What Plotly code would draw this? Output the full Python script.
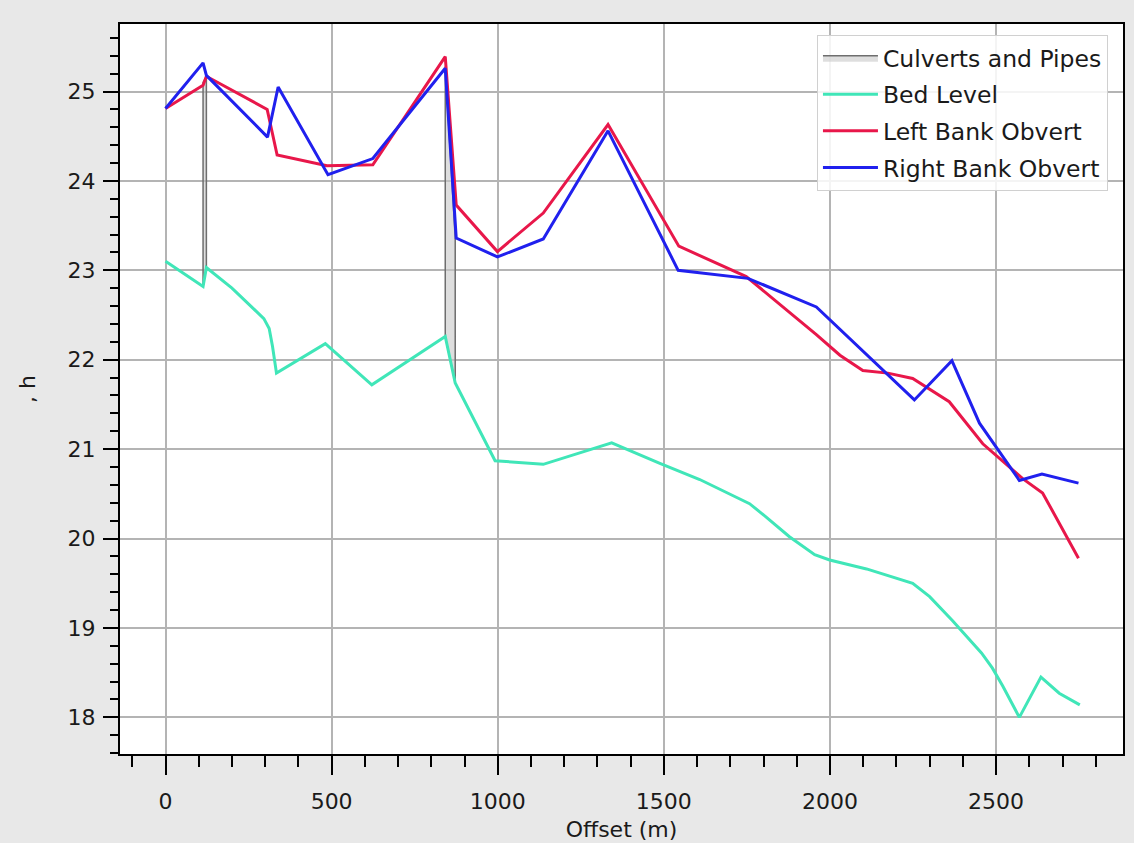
import plotly.graph_objects as go

# ---- data ----
bed_x = [0, 113, 123, 200, 296, 312, 322, 334, 481, 621, 842, 872, 992, 1137, 1343,
         1488, 1608, 1758, 1808, 1878, 1954, 1999, 2110, 2249, 2300, 2369, 2456, 2489,
         2520, 2570, 2635, 2690, 2752]
bed_y = [23.10, 22.82, 23.03, 22.80, 22.46, 22.35, 22.15, 21.85, 22.18, 21.72, 22.26, 21.74,
         20.87, 20.83, 21.07, 20.84, 20.66, 20.39, 20.24, 20.02, 19.82, 19.76, 19.66, 19.50,
         19.35, 19.08, 18.72, 18.55, 18.35, 18.00, 18.45, 18.27, 18.14]

left_x = [0, 113, 123, 306, 336, 486, 624, 842, 875, 999, 1137, 1332, 1545, 1748, 1959,
          2030, 2099, 2174, 2249, 2359, 2460, 2580, 2640, 2748]
left_y = [24.81, 25.07, 25.17, 24.80, 24.29, 24.17, 24.18, 25.39, 23.73, 23.21, 23.64, 24.63,
          23.27, 22.93, 22.28, 22.05, 21.88, 21.85, 21.79, 21.53, 21.06, 20.67, 20.51, 19.78]

right_x = [0, 113, 123, 307, 339, 489, 624, 842, 875, 999, 1137, 1332, 1543, 1753, 1959,
           2254, 2367, 2450, 2570, 2638, 2748]
right_y = [24.81, 25.32, 25.18, 24.49, 25.05, 24.07, 24.25, 25.26, 23.36, 23.15, 23.35, 24.56,
           23.00, 22.91, 22.59, 21.55, 21.99, 21.29, 20.65, 20.72, 20.62]

culvert1_x = [113, 113, 123, 123, 113]
culvert1_y = [22.82, 25.10, 25.17, 23.03, 22.82]
culvert2_x = [842, 842, 872, 872, 842]
culvert2_y = [22.26, 25.28, 23.36, 21.74, 22.26]

x_ticks = [0, 500, 1000, 1500, 2000, 2500]
y_ticks = [18, 19, 20, 21, 22, 23, 24, 25]

FONT = "DejaVu Sans"
BG = "#e8e8e8"

fig = go.Figure()

fig.add_trace(go.Scatter(
    x=culvert1_x + [None] + culvert2_x,
    y=culvert1_y + [None] + culvert2_y,
    mode="lines", fill="toself", fillcolor="rgba(200,200,200,0.6)",
    line=dict(color="#6e6e6e", width=1.5),
    name="Culverts and Pipes", legendgroup="a"))
fig.add_trace(go.Scatter(x=bed_x, y=bed_y, mode="lines", name="Bed Level",
                         line=dict(color="#40e6b8", width=3), legendgroup="b"))
fig.add_trace(go.Scatter(x=left_x, y=left_y, mode="lines", name="Left Bank Obvert",
                         line=dict(color="#e8174a", width=3), legendgroup="c"))
fig.add_trace(go.Scatter(x=right_x, y=right_y, mode="lines", name="Right Bank Obvert",
                         line=dict(color="#2020ee", width=3), legendgroup="d"))

fig.update_layout(
    width=1134, height=843,
    margin=dict(l=120, r=11, t=24, b=89),
    paper_bgcolor=BG, plot_bgcolor="white",
    font=dict(family=FONT, size=22, color="#1a1a1a"),
    showlegend=True,
    legend=dict(x=0.985, y=0.985, xanchor="right", yanchor="top",
                bgcolor="rgba(255,255,255,0.85)", bordercolor="#d0d0d0", borderwidth=1,
                font=dict(family=FONT, size=23.5, color="#1a1a1a"),
                traceorder="grouped", tracegroupgap=3, itemwidth=55),
)

fig.update_xaxes(
    range=[-137, 2882], tickvals=x_ticks, automargin=False,
    showline=True, linecolor="black", linewidth=2, mirror=True,
    ticks="outside", ticklen=19, tickwidth=2, tickcolor="black",
    ticklabelstandoff=8,
    showgrid=True, gridcolor="#b4b4b4", gridwidth=1.5, zeroline=False,
    minor=dict(tick0=0, dtick=100, ticks="outside", ticklen=11, tickwidth=2,
               tickcolor="black", showgrid=False),
    title=dict(text="Offset (m)", standoff=8, font=dict(size=22)),
    tickfont=dict(size=22),
)
fig.update_yaxes(
    range=[17.59, 25.755], tickvals=y_ticks, automargin=False,
    showline=True, linecolor="black", linewidth=2, mirror=True,
    ticks="outside", ticklen=15, tickwidth=2, tickcolor="black",
    ticklabelstandoff=3,
    showgrid=True, gridcolor="#b4b4b4", gridwidth=1.5, zeroline=False,
    minor=dict(tick0=0, dtick=0.2, ticks="outside", ticklen=8, tickwidth=2,
               tickcolor="black", showgrid=False),
    title=dict(text=", h", standoff=26, font=dict(size=22)),
    tickfont=dict(size=22),
)

fig.write_html("out.html",
               config={"displayModeBar": False},
               post_script="document.body.style.margin='0';"
                           "document.body.style.background='%s';" % BG)
